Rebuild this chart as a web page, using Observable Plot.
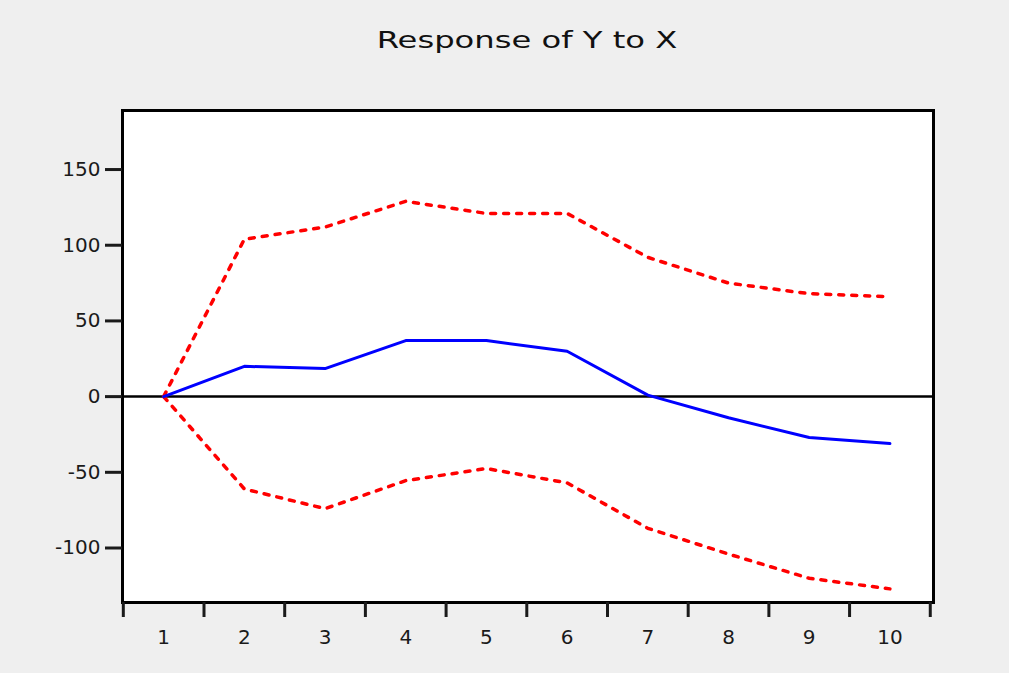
<!DOCTYPE html>
<html>
<head>
<meta charset="utf-8">
<script src="https://cdn.jsdelivr.net/npm/d3@7"></script>
<script src="https://cdn.jsdelivr.net/npm/@observablehq/plot@0.6"></script>
<style>
  html, body { margin: 0; padding: 0; background: #efefef; width: 1009px; height: 673px; overflow: hidden; }
  #title { height: 80px; position: relative; }
  #title span {
    position: absolute; left: 527px; top: 40px;
    transform: translate(-50%, -50%) scaleX(1.4);
    font-family: "DejaVu Sans", sans-serif; font-size: 23px; color: #111; white-space: nowrap;
  }
  #chart svg { display: block; }
</style>
</head>
<body>
<div id="title"><span>Response of Y to X</span></div>
<div id="chart"></div>
<script>
const periods = [1, 2, 3, 4, 5, 6, 7, 8, 9, 10];
const response = [0, 20, 18.5, 37, 37, 30, 1, -14, -27, -31];
const upperBand = [0, 104, 112, 129, 121, 121, 92, 75, 68, 66];
const lowerBand = [0, -61, -74, -55.5, -47.5, -57, -87, -104, -120, -127];
const yTicks = [-100, -50, 0, 50, 100, 150];
const xBoundaries = [0.5, 1.5, 2.5, 3.5, 4.5, 5.5, 6.5, 7.5, 8.5, 9.5, 10.5];

const rows = periods.map((p, i) => ({ p, r: response[i], u: upperBand[i], l: lowerBand[i] }));

const chart = Plot.plot({
  width: 1009,
  height: 593,
  marginTop: 30,
  marginBottom: 71,
  marginLeft: 122,
  marginRight: 76,
  style: { background: "transparent", fontFamily: "DejaVu Sans, sans-serif", fontSize: "20px", color: "#1a1a1a" },
  x: { domain: [0.49, 10.54], label: null },
  y: { domain: [-136, 189], label: null },
  marks: [
    Plot.frame({ fill: "white" }),
    Plot.ruleY([0], { stroke: "black", strokeWidth: 2.5 }),
    Plot.line(rows, { x: "p", y: "u", stroke: "#ff0000", strokeWidth: 3.5, strokeDasharray: "5,8" }),
    Plot.line(rows, { x: "p", y: "l", stroke: "#ff0000", strokeWidth: 3.5, strokeDasharray: "5,8" }),
    Plot.line(rows, { x: "p", y: "r", stroke: "#0000ff", strokeWidth: 3 }),
    Plot.frame({ stroke: "black", strokeWidth: 3 }),
    Plot.axisY({ ticks: yTicks, tickSize: 17, tickPadding: 5, strokeWidth: 3, tickFormat: d => String(d), label: null }),
    Plot.axisX({ ticks: xBoundaries, tickSize: 15, strokeWidth: 3, tickFormat: () => "", label: null }),
    Plot.axisX({ ticks: periods, tickSize: 0, tickPadding: 27, tickFormat: d => String(d), label: null })
  ]
});
document.getElementById("chart").appendChild(chart);
</script>
</body>
</html>
